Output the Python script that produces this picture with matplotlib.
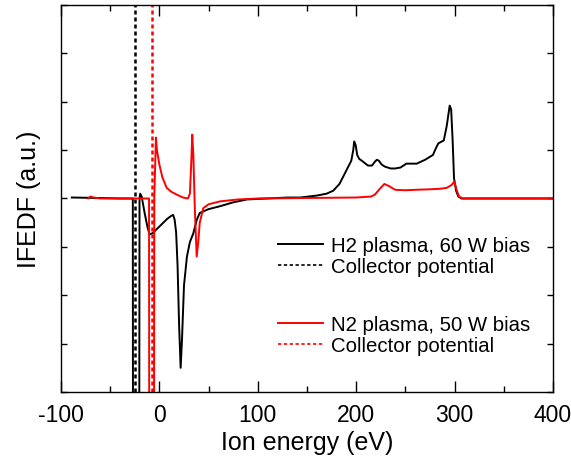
import numpy as np
import matplotlib
matplotlib.use("Agg")
from matplotlib import pyplot as plt
from matplotlib.ticker import MultipleLocator
from matplotlib.lines import Line2D

plt.rcParams["font.family"] = ["Liberation Sans", "DejaVu Sans"]
plt.rcParams["axes.unicode_minus"] = False

# H2 plasma, 60 W bias (ion energy in eV, IFEDF in a.u.)
e_h2 = [-89, -60, -40, -28, -27, -26.8, -20.5, -20.2, -19.5, -18, -15, -12, -10, -7, -2, 3, 8, 12,
        14, 15.5, 17, 18.5, 20, 21.6, 23, 25, 28, 31, 34.5, 38, 41, 50, 61.6, 75, 89, 110, 130, 143,
        160, 170, 176.6, 183, 188, 192, 195, 197, 198, 199.5, 201, 203, 207, 212, 216, 219, 221, 223,
        226, 229, 235, 239.5, 245, 251, 256, 261.5, 270, 278, 281, 283.5, 289, 292, 295, 296.5, 298,
        299.4, 301.5, 303.8, 307, 330, 360, 400]
f_h2 = [0.01, 0.005, 0.0, 0.0, 0.0, -3, -3, 0.0, 0.05, 0.02, -0.15, -0.3, -0.37, -0.36, -0.31, -0.26, -0.21, -0.18,
        -0.17, -0.22, -0.35, -0.7, -1.3, -1.75, -1.45, -0.9, -0.6, -0.45, -0.36, -0.22, -0.15, -0.11, -0.08, -0.04, -0.01, 0.0, 0.01, 0.01,
        0.03, 0.05, 0.08, 0.15, 0.25, 0.33, 0.39, 0.5, 0.59, 0.55, 0.45, 0.41, 0.38, 0.34, 0.34, 0.38, 0.40, 0.39,
        0.35, 0.33, 0.31, 0.31, 0.32, 0.36, 0.36, 0.36, 0.40, 0.45, 0.52, 0.57, 0.60, 0.75, 0.96, 0.92, 0.6,
        0.21, 0.08, 0.02, 0.0, 0.0, 0.0, 0.0]

# N2 plasma, 50 W bias
e_n2 = [-72.5, -70, -67, -60, -40, -20, -10.5, -10.3, -5.5, -5.2, -4, -3.5, -2.5, 0, 3, 7.4, 12, 17.6, 24, 29,
        31, 32.5, 33.4, 34.5, 36, 37.9, 39.5, 41, 44.6, 50, 61.6, 80, 100, 200, 215, 219, 224, 228.6, 233,
        239.5, 250, 261, 275, 285, 292, 297, 299.7, 302, 304.5, 308, 400]
f_n2 = [0.0, 0.02, 0.01, 0.0, 0.0, 0.0, 0.0, -3, -3, 0.0, 0.45, 0.63, 0.5, 0.35, 0.22, 0.11, 0.07, 0.04, 0.01, 0.0,
        0.05, 0.4, 0.66, 0.45, -0.1, -0.6, -0.45, -0.25, -0.1, -0.06, -0.03, -0.01, 0.0, 0.01, 0.02, 0.04, 0.10, 0.15, 0.13,
        0.09, 0.085, 0.09, 0.095, 0.10, 0.11, 0.14, 0.175, 0.09, 0.02, 0.0, 0.0]

# collector potentials (eV)
v_coll_h2 = -24.3
v_coll_n2 = -7.8

fig = plt.figure(figsize=(5.71, 4.60), dpi=100)
ax = fig.add_axes([0.1068, 0.1457, 0.8617, 0.8413])

ax.plot(e_h2, f_h2, color="black", lw=1.4)
ax.axvline(v_coll_h2, color="black", lw=1.8, ls=(0, (1.6, 1.2)))
ax.plot(e_n2, f_n2, color="red", lw=1.4)
ax.axvline(v_coll_n2, color="red", lw=1.8, ls=(0, (1.6, 1.2)))

ax.set_xlim(-100, 400)
ax.set_ylim(-2, 2)
ax.xaxis.set_major_locator(MultipleLocator(100))
ax.xaxis.set_minor_locator(MultipleLocator(50))
ax.yaxis.set_major_locator(MultipleLocator(0.5))
ax.set_yticklabels([])
ax.tick_params(which="both", direction="in", top=True, right=True, labelsize=16.5, width=1)
ax.tick_params(axis="x", which="major", length=8, pad=8)
ax.tick_params(axis="x", which="minor", length=4)
ax.tick_params(axis="y", which="major", length=4)
for s in ax.spines.values():
    s.set_linewidth(1.0)

ax.set_xlabel("Ion energy (eV)", fontsize=18, labelpad=3)
ax.set_ylabel("IFEDF (a.u.)", fontsize=18, labelpad=11)

# two legend blocks, one per gas
kw = dict(frameon=False, fontsize=14.7, loc="center left", borderaxespad=0, borderpad=0,
          handlelength=2.2, handletextpad=0.4, labelspacing=0.1)
h1 = [Line2D([], [], color="black", lw=1.4),
      Line2D([], [], color="black", lw=1.2, ls=(0, (2, 1.5)))]
h2 = [Line2D([], [], color="red", lw=1.4),
      Line2D([], [], color="red", lw=1.2, ls=(0, (2, 1.5)))]
leg1 = ax.legend(h1, ["H2 plasma, 60 W bias", "Collector potential"], bbox_to_anchor=(0.441, 0.351), **kw)
ax.add_artist(leg1)
ax.legend(h2, ["N2 plasma, 50 W bias", "Collector potential"], bbox_to_anchor=(0.441, 0.146), **kw)

fig.savefig("out.png", dpi=100)
